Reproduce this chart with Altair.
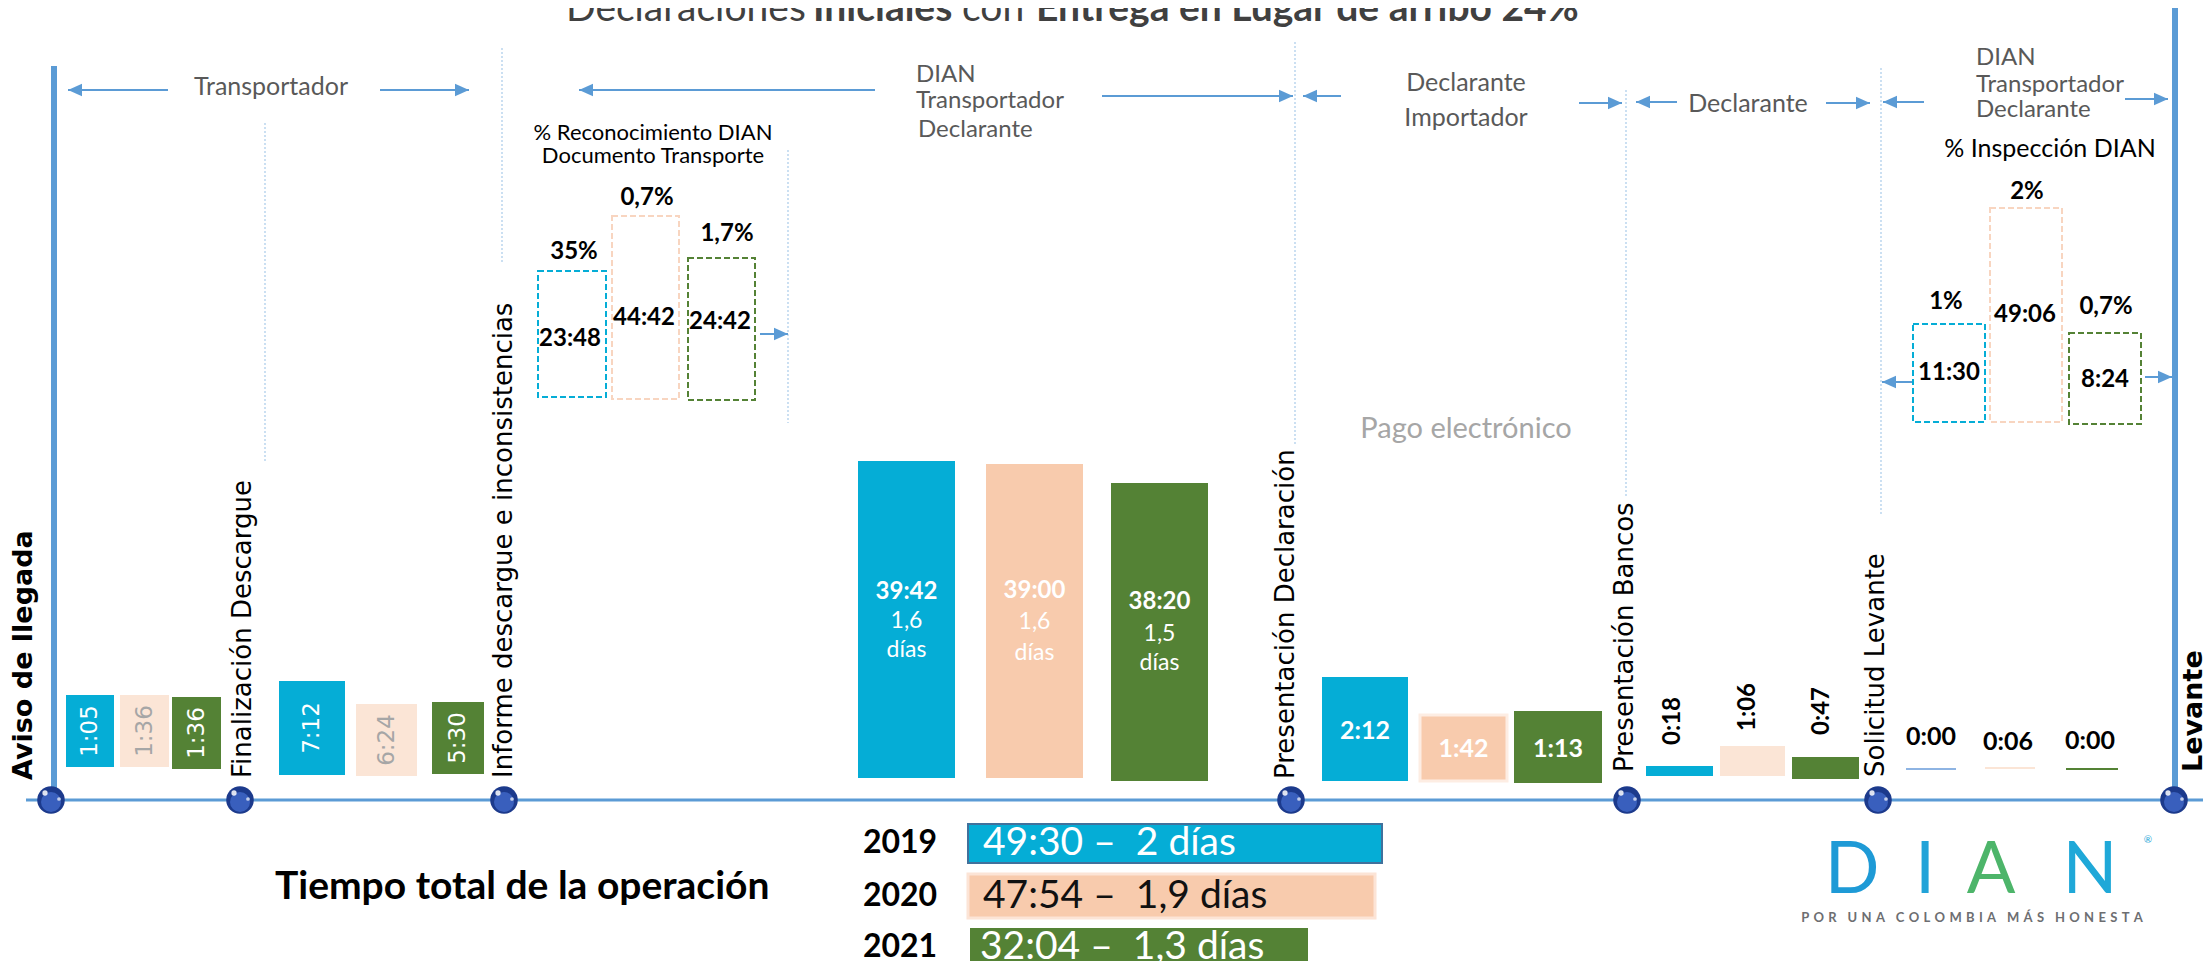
import altair as alt
import pandas as pd

# ------------------------------------------------------------------ data
title_parts = ["Declaraciones", "Iniciales", "con", "Entrega en Lugar de arribo 24%"]
title_bold = [False, True, False, True]
years = ["2019", "2020", "2021"]
milestones = ["Aviso de llegada", "Finalización Descargue",
              "Informe descargue e inconsistencias", "Presentación Declaración",
              "Presentación Bancos", "Solicitud Levante", "Levante"]
milestone_bold = [True, False, False, False, False, False, True]
stage_times = [
    ["1:05", "1:36", "1:36"],
    ["7:12", "6:24", "5:30"],
    ["39:42", "39:00", "38:20"],
    ["2:12", "1:42", "1:13"],
    ["0:18", "1:06", "0:47"],
    ["0:00", "0:06", "0:00"],
]
stage3_days = ["1,6", "1,6", "1,5"]
days_word = "días"
recon_title = ["% Reconocimiento DIAN", "Documento Transporte"]
recon_times = ["23:48", "44:42", "24:42"]
recon_pct = ["35%", "0,7%", "1,7%"]
insp_title = "% Inspección DIAN"
insp_times = ["11:30", "49:06", "8:24"]
insp_pct = ["1%", "2%", "0,7%"]
total_label = "Tiempo total de la operación"
total_times = ["49:30", "47:54", "32:04"]
total_days = ["2 días", "1,9 días", "1,3 días"]
actor_groups = [["Transportador"],
                ["DIAN", "Transportador", "Declarante"],
                ["Declarante", "Importador"],
                ["Declarante"],
                ["DIAN", "Transportador", "Declarante"]]
payment_note = "Pago electrónico"
logo_letters = ["D", "I", "A", "N"]
logo_tagline = "POR UNA COLOMBIA MÁS HONESTA"

# ------------------------------------------------------------------ layout / style
W_FULL, H_FULL, PAD = 2211, 969, 8
BLUE, PEACH, LPEACH, GREEN = "#05ADD6", "#F8CBAD", "#FBE5D6", "#548235"
LINE, DOT = "#5B9BD5", "#A9CBEA"
GRAY_TXT = "#595959"
CAL = "Lato"
VER = "DejaVu Sans"

milestone_x = [51, 240, 504, 1291, 1627, 1878, 2174]
milestone_label_x = [32, 251, 512, 1294, 1633, 1884, 2202]
milestone_label_y = [780, 778, 778, 779, 772, 777, 772]
AXIS_Y = 800

bar_x = [
    [(66, 114), (120, 169), (172, 221)],
    [(279, 345), (356, 417), (432, 484)],
    [(858, 955), (986, 1083), (1111, 1208)],
    [(1322, 1408), (1420, 1507), (1514, 1602)],
    [(1646, 1713), (1720, 1785), (1792, 1859)],
    [(1906, 1956), (1985, 2035), (2066, 2118)],
]
bar_y = [
    [(695, 767), (695, 767), (697, 769)],
    [(681, 775), (704, 776), (702, 774)],
    [(461, 778), (464, 778), (483, 781)],
    [(677, 781), (715, 781), (711, 783)],
    [(766, 776), (746, 776), (757, 779)],
    [(768, 770), (767, 769), (768, 770)],
]
bar_fill = [
    [BLUE, LPEACH, GREEN],
    [BLUE, LPEACH, GREEN],
    [BLUE, PEACH, GREEN],
    [BLUE, PEACH, GREEN],
    [BLUE, LPEACH, GREEN],
    ["#8EB4E3", LPEACH, GREEN],
]
stage3_line_y = [(592, 621, 650), (591, 622, 653), (602, 634, 663)]
stage4_label_y = [731, 749, 749]
stage5_label_pos = [(1673, 721), (1748, 707), (1822, 711)]
stage6_label_pos = [(1931, 737), (2008, 742), (2090, 741)]

box_stroke = [BLUE, "#F8D5C0", GREEN]
recon_box_x = [(538, 606), (612, 679), (688, 755)]
recon_box_y = [(271, 397), (216, 399), (258, 400)]
recon_time_pos = [(570, 339), (644, 318), (720, 322)]
recon_pct_pos = [(574, 252), (647, 198), (727, 234)]
recon_title_pos = [(653, 133), (653, 156)]
insp_box_x = [(1913, 1985), (1990, 2062), (2069, 2141)]
insp_box_y = [(324, 422), (208, 422), (333, 424)]
insp_time_pos = [(1949, 373), (2025, 315), (2105, 380)]
insp_pct_pos = [(1946, 302), (2027, 192), (2106, 307)]
insp_title_pos = (2050, 149)

actor_pos = [
    ("middle", [(271, 87)]),
    ("left", [(916, 75), (916, 101), (918, 130)]),
    ("middle", [(1466, 83), (1466, 118)]),
    ("middle", [(1748, 104)]),
    ("left", [(1976, 58), (1976, 85), (1976, 110)]),
]
payment_pos = (1466, 429)

arrows = [  # tail x, tip x, y
    (168, 68, 90), (380, 469, 90),
    (875, 579, 90), (1102, 1293, 96), (1341, 1303, 96),
    (1579, 1622, 103), (1677, 1636, 102), (1826, 1870, 103),
    (1924, 1883, 102), (2125, 2168, 99),
    (760, 788, 334), (1913, 1882, 382), (2145, 2172, 377),
]
dotted = [(265, 123, 463), (502, 48, 263), (788, 150, 423),
          (1295, 42, 445), (1626, 90, 497), (1881, 68, 516)]

title_x = [566, 813, 962, 1036]
title_y = 21

total_label_pos = (275, 887)
year_label_x = 900
year_y = [843, 896, 947]
year_bar_x = [(968, 1382), (968, 1375), (970, 1308)]
year_bar_y = [(824, 863), (874, 918), (928, 975)]
year_fill = [BLUE, PEACH, GREEN]
year_stroke = ["#41719C", "#FCE4D6", GREEN]
year_stroke_w = [2, 3, 0]
year_text_x = [983, 983, 980]
year_text_col = ["white", "#111111", "white"]

logo_x = [1852, 1925, 1991, 2090]
logo_col = ["#1E9AD6", "#22A3D8", "#4DB56A", "#1FA8D8"]
logo_y = 893
tagline_pos = (1972, 918)

# ------------------------------------------------------------------ helpers
xs = alt.Scale(domain=[0, W_FULL], range=[-PAD, W_FULL - PAD], nice=False, zero=False)
ys = alt.Scale(domain=[0, H_FULL], range=[-PAD, H_FULL - PAD], nice=False, zero=False)


def X(f):
    return alt.X(f"{f}:Q", scale=xs, axis=None)


def Y(f):
    return alt.Y(f"{f}:Q", scale=ys, axis=None)


def txt(rows, **style):
    df = pd.DataFrame(rows)
    return alt.Chart(df).mark_text(**style).encode(
        x=X("x"), y=Y("y"), text="t:N", color=alt.Color("c:N", scale=None))


def rects(rows, **style):
    df = pd.DataFrame(rows)
    return alt.Chart(df).mark_rect(**style).encode(
        x=X("x0"), x2=alt.X2("x1:Q"), y=Y("y0"), y2=alt.Y2("y1:Q"),
        fill=alt.Fill("fill:N", scale=None),
        stroke=alt.Stroke("stroke:N", scale=None),
        strokeWidth=alt.StrokeWidth("sw:Q", scale=None))


layers = []

# frame lines
layers.append(alt.Chart(pd.DataFrame([dict(x=26, x2=2204, y=AXIS_Y)])).mark_rule(
    color=LINE, strokeWidth=3).encode(x=X("x"), x2=alt.X2("x2:Q"), y=Y("y")))
layers.append(alt.Chart(pd.DataFrame([dict(x=54, y=66, y2=AXIS_Y), dict(x=2175, y=6, y2=AXIS_Y - 8)])).mark_rule(
    color=LINE, strokeWidth=6).encode(x=X("x"), y=Y("y"), y2=alt.Y2("y2:Q")))

# dotted guides
layers.append(alt.Chart(pd.DataFrame([dict(x=a, y=b, y2=c) for a, b, c in dotted])).mark_rule(
    color=DOT, strokeWidth=1.2, strokeDash=[2, 2]).encode(x=X("x"), y=Y("y"), y2=alt.Y2("y2:Q")))

# arrows
layers.append(alt.Chart(pd.DataFrame([dict(x=a, x2=b, y=c) for a, b, c in arrows])).mark_rule(
    color=LINE, strokeWidth=2).encode(x=X("x"), x2=alt.X2("x2:Q"), y=Y("y")))
left_heads = [dict(x=b, y=c) for a, b, c in arrows if b < a]
right_heads = [dict(x=b, y=c) for a, b, c in arrows if b > a]
layers.append(alt.Chart(pd.DataFrame(left_heads)).mark_point(
    shape="M0,0L2,-0.9L2,0.9Z", filled=True, size=196, color=LINE, opacity=1).encode(x=X("x"), y=Y("y")))
layers.append(alt.Chart(pd.DataFrame(right_heads)).mark_point(
    shape="M0,0L-2,-0.9L-2,0.9Z", filled=True, size=196, color=LINE, opacity=1).encode(x=X("x"), y=Y("y")))

# stage bars
bar_rows = []
for s in range(6):
    for k in range(3):
        special = (s == 3 and k == 1)
        bar_rows.append(dict(x0=bar_x[s][k][0], x1=bar_x[s][k][1], y0=bar_y[s][k][0], y1=bar_y[s][k][1],
                             fill=bar_fill[s][k], stroke="#FDEDE3" if special else bar_fill[s][k],
                             sw=3 if special else 0))
layers.append(rects(bar_rows))

# dashed boxes
box_rows = []
for bx, by in ((recon_box_x, recon_box_y), (insp_box_x, insp_box_y)):
    for k in range(3):
        box_rows.append(dict(x0=bx[k][0], x1=bx[k][1], y0=by[k][0], y1=by[k][1],
                             stroke=box_stroke[k], sw=2))
layers.append(alt.Chart(pd.DataFrame(box_rows)).mark_rect(fillOpacity=0, strokeDash=[6, 3]).encode(
    x=X("x0"), x2=alt.X2("x1:Q"), y=Y("y0"), y2=alt.Y2("y1:Q"),
    stroke=alt.Stroke("stroke:N", scale=None), strokeWidth=alt.StrokeWidth("sw:Q", scale=None)))

# year bars
yr_rows = [dict(x0=year_bar_x[k][0], x1=year_bar_x[k][1], y0=year_bar_y[k][0], y1=year_bar_y[k][1],
                fill=year_fill[k], stroke=year_stroke[k], sw=year_stroke_w[k]) for k in range(3)]
layers.append(rects(yr_rows))

# milestone dots (spheres)
layers.append(alt.Chart(pd.DataFrame([dict(x=v, y=AXIS_Y) for v in milestone_x])).mark_circle(
    size=760, color="#1C3A8C", opacity=1).encode(x=X("x"), y=Y("y")))
layers.append(alt.Chart(pd.DataFrame([dict(x=v, y=AXIS_Y + 2) for v in milestone_x])).mark_circle(
    size=400, color="#3E66C6", opacity=0.85).encode(x=X("x"), y=Y("y")))
layers.append(alt.Chart(pd.DataFrame([dict(x=v - 6, y=AXIS_Y - 7) for v in milestone_x])).mark_circle(
    size=28, color="white", opacity=0.85).encode(x=X("x"), y=Y("y")))
layers.append(alt.Chart(pd.DataFrame([dict(x=v + 8, y=AXIS_Y - 1) for v in milestone_x])).mark_circle(
    size=14, color="white", opacity=0.7).encode(x=X("x"), y=Y("y")))

# title
for bold in (False, True):
    rows = [dict(x=title_x[i], y=title_y, t=title_parts[i], c="#404040")
            for i in range(4) if title_bold[i] == bold]
    layers.append(txt(rows, font=CAL, fontSize=39, fontWeight="bold" if bold else "normal",
                      align="left", baseline="alphabetic"))

# milestone labels
for bold in (False, True):
    rows = [dict(x=milestone_label_x[i], y=milestone_label_y[i], t=milestones[i], c="black")
            for i in range(7) if milestone_bold[i] == bold]
    layers.append(txt(rows, font=VER, fontSize=27 if bold else 26, fontWeight="bold" if bold else "normal",
                      angle=270, align="left", baseline="alphabetic"))

# bar labels: stages 1-2 (rotated)
lab_col = ["white", "#A6A6A6", "white"]
rows = []
for s in (0, 1):
    for k in range(3):
        rows.append(dict(x=sum(bar_x[s][k]) / 2, y=sum(bar_y[s][k]) / 2, t=stage_times[s][k], c=lab_col[k]))
layers.append(txt(rows, font=VER, fontSize=23, angle=270, align="center", baseline="middle"))

# stage 3 (large bars)
rows_b, rows_r = [], []
for k in range(3):
    cx = sum(bar_x[2][k]) / 2
    rows_b.append(dict(x=cx, y=stage3_line_y[k][0], t=stage_times[2][k], c="white"))
    rows_r.append(dict(x=cx, y=stage3_line_y[k][1], t=stage3_days[k], c="white"))
    rows_r.append(dict(x=cx, y=stage3_line_y[k][2], t=days_word, c="white"))
layers.append(txt(rows_b, font=CAL, fontSize=24, fontWeight="bold", align="center", baseline="middle"))
layers.append(txt(rows_r, font=CAL, fontSize=23, align="center", baseline="middle"))

# stage 4
rows = [dict(x=sum(bar_x[3][k]) / 2, y=stage4_label_y[k], t=stage_times[3][k], c="white") for k in range(3)]
layers.append(txt(rows, font=CAL, fontSize=25, fontWeight="bold", align="center", baseline="middle"))

# stage 5 (rotated, above bars)
rows = [dict(x=stage5_label_pos[k][0], y=stage5_label_pos[k][1], t=stage_times[4][k], c="black") for k in range(3)]
layers.append(txt(rows, font=CAL, fontSize=24, fontWeight="bold", angle=270, align="center", baseline="middle"))

# stage 6
rows = [dict(x=stage6_label_pos[k][0], y=stage6_label_pos[k][1], t=stage_times[5][k], c="black") for k in range(3)]
layers.append(txt(rows, font=CAL, fontSize=25, fontWeight="bold", align="center", baseline="middle"))

# dashed-box labels
rows = []
for k in range(3):
    rows.append(dict(x=recon_time_pos[k][0], y=recon_time_pos[k][1], t=recon_times[k], c="black"))
    rows.append(dict(x=recon_pct_pos[k][0], y=recon_pct_pos[k][1], t=recon_pct[k], c="black"))
    rows.append(dict(x=insp_time_pos[k][0], y=insp_time_pos[k][1], t=insp_times[k], c="black"))
    rows.append(dict(x=insp_pct_pos[k][0], y=insp_pct_pos[k][1], t=insp_pct[k], c="black"))
layers.append(txt(rows, font=CAL, fontSize=24, fontWeight="bold", align="center", baseline="middle"))

rows = [dict(x=recon_title_pos[i][0], y=recon_title_pos[i][1], t=recon_title[i], c="black") for i in range(2)]
layers.append(txt(rows, font=CAL, fontSize=22, align="center", baseline="middle"))
layers.append(txt([dict(x=insp_title_pos[0], y=insp_title_pos[1], t=insp_title, c="black")],
                  font=CAL, fontSize=25, align="center", baseline="middle"))

# actor labels
rows_c, rows_l = [], []
for (al, pos), names in zip(actor_pos, actor_groups):
    for (px, py), n in zip(pos, names):
        (rows_c if al == "middle" else rows_l).append(dict(x=px, y=py, t=n, c=GRAY_TXT))
layers.append(txt(rows_c, font=CAL, fontSize=25, align="center", baseline="middle"))
layers.append(txt(rows_l, font=CAL, fontSize=24, align="left", baseline="middle"))
layers.append(txt([dict(x=payment_pos[0], y=payment_pos[1], t=payment_note, c="#A6A6A6")],
                  font=CAL, fontSize=29, align="center", baseline="middle"))

# totals
layers.append(txt([dict(x=total_label_pos[0], y=total_label_pos[1], t=total_label, c="black")],
                  font=CAL, fontSize=39, fontWeight="bold", align="left", baseline="middle"))
rows = [dict(x=year_label_x, y=year_y[k], t=years[k], c="black") for k in range(3)]
layers.append(txt(rows, font=CAL, fontSize=32, fontWeight="bold", align="center", baseline="middle"))
rows = [dict(x=year_text_x[k], y=year_y[k], t=f"{total_times[k]} \u2013 \u00a0{total_days[k]}", c=year_text_col[k])
        for k in range(3)]
layers.append(txt(rows, font=CAL, fontSize=39, align="left", baseline="middle"))

# logo
rows = [dict(x=logo_x[i], y=logo_y, t=logo_letters[i], c=logo_col[i]) for i in range(4)]
layers.append(txt(rows, font=CAL, fontSize=72, fontWeight="normal", align="center", baseline="alphabetic"))
layers.append(txt([dict(x=2148, y=840, t="\u00ae", c="#2AA8D8")], font=CAL, fontSize=10,
                  align="center", baseline="middle"))
spaced_tag = "\u2002\u2004".join("\u2004".join(w) for w in logo_tagline.split(" "))
layers.append(txt([dict(x=tagline_pos[0], y=tagline_pos[1], t=spaced_tag, c="#6D6E71")],
                  font=CAL, fontSize=13, fontWeight="bold", align="center", baseline="middle"))

chart = alt.layer(*layers).properties(
    width=W_FULL - 2 * PAD, height=H_FULL - 2 * PAD, padding=0,
    autosize=alt.AutoSizeParams(type="none"), background="white"
).configure_view(stroke=None)

chart.save("out.html", embed_options={"renderer": "svg", "actions": False})
